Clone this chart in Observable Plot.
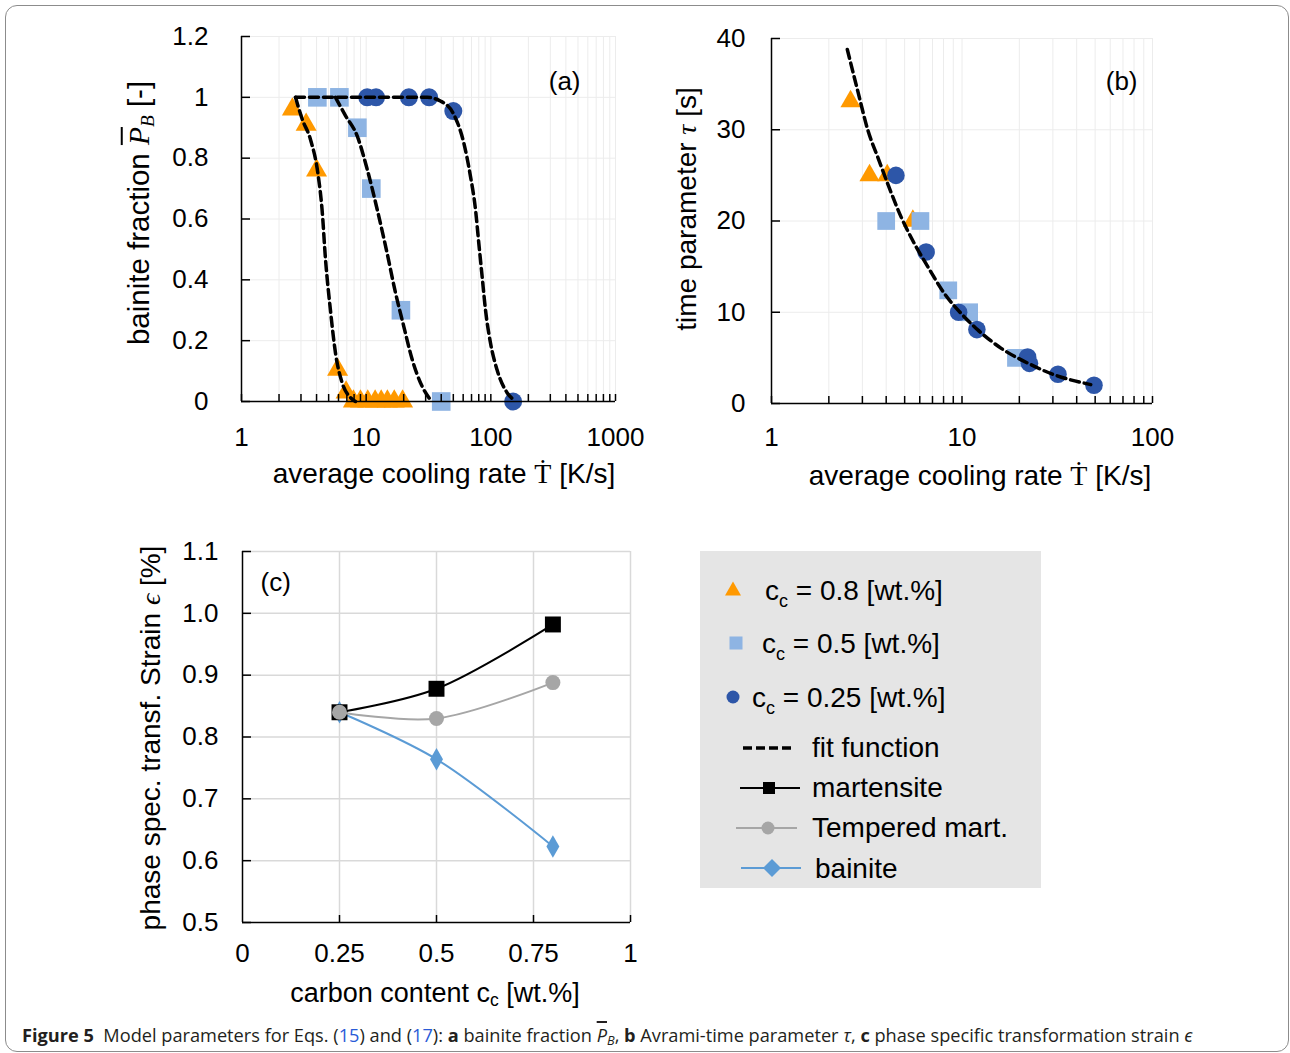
<!DOCTYPE html>
<html>
<head>
<meta charset="utf-8">
<script src="https://cdn.jsdelivr.net/npm/d3@7"></script>
<script src="https://cdn.jsdelivr.net/npm/@observablehq/plot@0.6"></script>
<style>
  body { margin: 0; background: #fff; }
  #fig { position: relative; width: 1290px; height: 1053px; overflow: hidden; background: #fff;
         font-family: "Liberation Sans", Arial, Helvetica, sans-serif; color: #000; }
  #border { position: absolute; left: 5px; top: 5px; width: 1284px; height: 1047px;
            border: 1px solid #8c8c8c; border-radius: 12px; box-sizing: border-box; }
  .panel { position: absolute; }
  .title { position: absolute; white-space: nowrap; transform: translate(-50%, -50%);
           font-size: 28px; line-height: 1; }
  .vtitle { transform: translate(-50%, -50%) rotate(-90deg); }
  .title sub { font-size: 0.65em; vertical-align: -0.25em; line-height: 0; }
  .m { font-family: "Liberation Serif", "DejaVu Serif", serif; font-style: italic; }
  .mu { font-family: "Liberation Serif", "DejaVu Serif", serif; }
  .bar { text-decoration: overline; text-decoration-thickness: 1.5px; }
  #legend { position: absolute; left: 700px; top: 551px; width: 341px; height: 337px; background: #e5e5e5; }
  #caption { position: absolute; left: 22px; top: 1023px; font-family: "Open Sans", "Noto Sans", sans-serif;
             font-size: 18.2px; line-height: 24px; color: #231f20; white-space: nowrap; }
  #caption b { font-weight: 700; }
  #caption .lnk { color: #2a5bd7; }
  #caption sub { font-size: 0.7em; vertical-align: -0.25em; line-height: 0; font-style: italic; }
</style>
</head>
<body>
<div id="fig">
  <div id="border"></div>
  <div id="pa" class="panel" style="left:100px;top:0px;"></div>
  <div id="pb" class="panel" style="left:660px;top:0px;"></div>
  <div id="pc" class="panel" style="left:100px;top:520px;"></div>

  <div class="title vtitle" style="left:139px;top:213px;font-size:29.5px;">bainite fraction <span class="m bar">P</span><sub class="m">B</sub> [-]</div>
  <div class="title" style="left:444px;top:474px;">average cooling rate <span class="mu">Ṫ</span> [K/s]</div>
  <div class="title vtitle" style="left:687px;top:209px;">time parameter <span class="m">τ</span> [s]</div>
  <div class="title" style="left:980px;top:476px;">average cooling rate <span class="mu">Ṫ</span> [K/s]</div>
  <div class="title vtitle" style="left:151px;top:738px;">phase spec. transf. Strain <span class="m">ϵ</span> [%]</div>
  <div class="title" style="left:435px;top:993px;font-size:27px;">carbon content c<sub>c</sub> [wt.%]</div>

  <div id="legend"></div>

  <div id="caption"><b>Figure 5</b>&nbsp; Model parameters for Eqs. (<span class="lnk">15</span>) and (<span class="lnk">17</span>): <b>a</b> bainite fraction <i class="bar">P</i><sub>B</sub>, <b>b</b> Avrami-time parameter <i>τ</i>, <b>c</b> phase specific transformation strain <i>ϵ</i></div>
</div>

<script>
// ---------------- colours ----------------
const orange = "#ff9900", lightBlue = "#8eb4e3", darkBlue = "#2d56a8";
const martColor = "#000000", tempColor = "#a6a6a6", bainColor = "#5b9bd5";
const FONT = "Liberation Sans, Arial, Helvetica, sans-serif";

// ---------------- panel (a): bainite fraction vs cooling rate ----------------
const a08Rate = [2.56, 3.3, 4.0, 5.9, 6.9, 7.9, 9, 10.3, 11.8, 13.2, 14.8, 16.8, 19.6];
const a08Frac = [0.96, 0.91, 0.76, 0.105, 0.03, 0, 0, 0, 0, 0, 0, 0, 0];
const a05Rate = [4.06, 6.1, 8.5, 11, 19, 40];
const a05Frac = [1, 1, 0.9, 0.7, 0.3, 0];
const a025Rate = [10.2, 12, 22, 32, 50, 151];
const a025Frac = [1, 1, 1, 1, 0.955, 0];

const fitA08Rate = [2.71, 3.07, 3.57, 4.1, 4.43, 4.72, 5.17, 5.67, 6.41, 7.48, 8.2];
const fitA08Frac = [1.0, 0.928, 0.862, 0.75, 0.63, 0.467, 0.30, 0.16, 0.062, 0.013, 0];
const fitA05Rate = [5.67, 6.82, 8.47, 10.2, 12.25, 14.7, 17.2, 20.0, 23.4, 28.1, 32.8];
const fitA05Frac = [1.0, 0.94, 0.873, 0.763, 0.632, 0.489, 0.357, 0.248, 0.138, 0.05, 0.005];
const fitA025Rate = [2.71, 30.8, 39.4, 50.4, 60.6, 68.6, 75.3, 80, 85.1, 90.5, 99.3, 112, 135, 151];
const fitA025Frac = [1, 1, 0.988, 0.944, 0.851, 0.741, 0.632, 0.522, 0.412, 0.303, 0.193, 0.105, 0.029, 0.007];

const aTicksX = [1, 10, 100, 1000];
const aMinorX = [2,3,4,5,6,7,8,9,20,30,40,50,60,70,80,90,200,300,400,500,600,700,800,900];
const aTicksY = [0, 0.2, 0.4, 0.6, 0.8, 1, 1.2];

// ---------------- panel (b): time parameter vs cooling rate ----------------
const b08Rate = [2.6, 3.27, 4.05, 5.52];
const b08Tau = [33.1, 25, 25, 20];
const b05Rate = [4.0, 6.05, 8.47, 10.9, 19.2];
const b05Tau = [20, 20, 12.4, 10, 5];
const b025Rate = [4.5, 6.48, 9.6, 11.97, 22.1, 22.6, 31.9, 49.3];
const b025Tau = [25, 16.6, 10, 8.1, 5.1, 4.4, 3.2, 2.0];

const fitBRate = [2.5, 2.84, 3.21, 3.62, 4.08, 4.8, 5.63, 6.61, 8.08, 9.88, 12.1, 16.0, 22.1, 30.4, 47.4];
const fitBTau = [38.8, 34.2, 29.9, 26.95, 24.05, 20.4, 17.5, 15.0, 12.06, 9.88, 8.07, 6.07, 4.43, 3.16, 2.07];

const bTicksX = [1, 10, 100];
const bMinorX = [2,3,4,5,6,7,8,9,20,30,40,50,60,70,80,90];
const bTicksY = [0, 10, 20, 30, 40];

// ---------------- panel (c): strain vs carbon content ----------------
const carbon = [0.25, 0.5, 0.8];
const martensite = [0.84, 0.878, 0.982];
const tempered = [0.84, 0.83, 0.888];
const bainite = [0.84, 0.764, 0.623];

const cTicksX = [0, 0.25, 0.5, 0.75, 1];
const cTicksY = [0.5, 0.6, 0.7, 0.8, 0.9, 1.0, 1.1];

// ---------------- helpers ----------------
const zip = (xs, ys) => xs.map((x, i) => ({x, y: ys[i]}));
const dash = {stroke: "#000", strokeWidth: 3.5, strokeDasharray: "9,5", curve: "monotone-x"};
const axisLine = {stroke: "#000", strokeWidth: 1.5};

function makePanel(cfg) {
  const fw = cfg.width - cfg.ml - cfg.mr;
  const fh = cfg.height - cfg.mt - cfg.mb;
  return Plot.plot({
    width: cfg.width, height: cfg.height,
    marginLeft: cfg.ml, marginRight: cfg.mr, marginTop: cfg.mt, marginBottom: cfg.mb,
    x: {...cfg.x, label: null},
    y: {...cfg.y, label: null},
    style: {fontFamily: FONT, fontSize: "26px", background: "transparent", overflow: "visible", color: "#000"},
    marks: [
      Plot.ruleX(cfg.gridX, {stroke: cfg.gridColor, strokeWidth: cfg.gridWidth}),
      Plot.ruleY(cfg.gridY, {stroke: cfg.gridColor, strokeWidth: cfg.gridWidth}),
      ...cfg.data,
      Plot.ruleX([cfg.x.domain[0]], axisLine),
      Plot.ruleY([cfg.y.domain[0]], axisLine),
      Plot.tickX(cfg.tickMarksX, {x: d => d, insetTop: fh - 7, stroke: "#000", strokeWidth: 1.5}),
      Plot.tickY(cfg.tickMarksY, {y: d => d, insetRight: fw - 9, stroke: "#000", strokeWidth: 1.5}),
      Plot.axisX({ticks: cfg.labelsX, tickFormat: cfg.fmtX, tickSize: 0, tickPadding: cfg.padX, fontSize: 26, label: null}),
      Plot.axisY({ticks: cfg.labelsY, tickFormat: cfg.fmtY, tickSize: 0, tickPadding: cfg.padY, fontSize: 26, label: null}),
      Plot.text([cfg.tag], {text: d => d, frameAnchor: cfg.tagAnchor, dx: cfg.tagDx, dy: cfg.tagDy,
                            textAnchor: cfg.tagTextAnchor, lineAnchor: "middle", fontSize: 26, fill: "#000"})
    ]
  });
}

// ---------------- panel (a) ----------------
document.getElementById("pa").append(makePanel({
  width: 560, height: 510, ml: 141, mr: 45, mt: 36, mb: 109,
  x: {type: "log", domain: [1, 1000]},
  y: {domain: [0, 1.2]},
  gridX: [...aMinorX, 10, 100, 1000], gridY: aTicksY.slice(1), gridColor: "#ececec", gridWidth: 1,
  data: [
    Plot.dot(zip(a08Rate, a08Frac), {x: "x", y: "y", symbol: "triangle", r: 7.8, fill: orange}),
    Plot.dot(zip(a05Rate, a05Frac), {x: "x", y: "y", symbol: "square", r: 10.5, fill: lightBlue}),
    Plot.dot(zip(a025Rate, a025Frac), {x: "x", y: "y", symbol: "circle", r: 9, fill: darkBlue}),
    Plot.line(zip(fitA08Rate, fitA08Frac), {x: "x", y: "y", ...dash}),
    Plot.line(zip(fitA05Rate, fitA05Frac), {x: "x", y: "y", ...dash}),
    Plot.line(zip(fitA025Rate, fitA025Frac), {x: "x", y: "y", ...dash})
  ],
  tickMarksX: [...aTicksX, ...aMinorX], tickMarksY: aTicksY,
  labelsX: aTicksX, fmtX: d => String(d), padX: 26,
  labelsY: aTicksY, fmtY: d => String(d), padY: 33,
  tag: "(a)", tagAnchor: "top-right", tagDx: -35, tagDy: 45, tagTextAnchor: "end"
}));

// ---------------- panel (b) ----------------
document.getElementById("pb").append(makePanel({
  width: 560, height: 510, ml: 111, mr: 68, mt: 38, mb: 107,
  x: {type: "log", domain: [1, 100]},
  y: {domain: [0, 40]},
  gridX: [...bMinorX, 10, 100], gridY: bTicksY.slice(1), gridColor: "#ececec", gridWidth: 1,
  data: [
    Plot.dot(zip(b08Rate, b08Tau), {x: "x", y: "y", symbol: "triangle", r: 7.5, fill: orange}),
    Plot.dot(zip(b05Rate, b05Tau), {x: "x", y: "y", symbol: "square", r: 10, fill: lightBlue}),
    Plot.dot(zip(b025Rate, b025Tau), {x: "x", y: "y", symbol: "circle", r: 8.8, fill: darkBlue}),
    Plot.line(zip(fitBRate, fitBTau), {x: "x", y: "y", ...dash})
  ],
  tickMarksX: [...bTicksX, ...bMinorX], tickMarksY: bTicksY,
  labelsX: bTicksX, fmtX: d => String(d), padX: 24,
  labelsY: bTicksY, fmtY: d => String(d), padY: 26,
  tag: "(b)", tagAnchor: "top-right", tagDx: -15, tagDy: 43, tagTextAnchor: "end"
}));

// ---------------- panel (c) ----------------
document.getElementById("pc").append(makePanel({
  width: 560, height: 500, ml: 142, mr: 30, mt: 31, mb: 98,
  x: {domain: [0, 1]},
  y: {domain: [0.5, 1.1]},
  gridX: cTicksX.slice(1), gridY: cTicksY.slice(1), gridColor: "#d9d9d9", gridWidth: 1.5,
  data: [
    Plot.line(zip(carbon, bainite), {x: "x", y: "y", stroke: bainColor, strokeWidth: 2, curve: "catmull-rom"}),
    Plot.dot(zip(carbon, bainite), {x: "x", y: "y", symbol: "diamond", r: 6.8, fill: bainColor}),
    Plot.line(zip(carbon, martensite), {x: "x", y: "y", stroke: martColor, strokeWidth: 2, curve: "catmull-rom"}),
    Plot.dot(zip(carbon, martensite), {x: "x", y: "y", symbol: "square", r: 9, fill: martColor}),
    Plot.line(zip(carbon, tempered), {x: "x", y: "y", stroke: tempColor, strokeWidth: 2, curve: "catmull-rom"}),
    Plot.dot(zip(carbon, tempered), {x: "x", y: "y", symbol: "circle", r: 7.5, fill: tempColor})
  ],
  tickMarksX: cTicksX.slice(1), tickMarksY: cTicksY,
  labelsX: cTicksX, fmtX: d => String(d), padX: 21,
  labelsY: cTicksY, fmtY: d => d.toFixed(1), padY: 24,
  tag: "(c)", tagAnchor: "top-left", tagDx: 18, tagDy: 31, tagTextAnchor: "start"
}));

// ---------------- legend ----------------
const legendItems = [
  {kind: "triangle", color: orange, label: "0.8"},
  {kind: "square", color: lightBlue, label: "0.5"},
  {kind: "circle", color: darkBlue, label: "0.25"},
  {kind: "dash", label: "fit function"},
  {kind: "lineSquare", color: martColor, label: "martensite"},
  {kind: "lineCircle", color: tempColor, label: "Tempered mart."},
  {kind: "lineDiamond", color: bainColor, label: "bainite"}
];
(function buildLegend() {
  const ns = "http://www.w3.org/2000/svg";
  const svg = document.createElementNS(ns, "svg");
  svg.setAttribute("width", 341); svg.setAttribute("height", 337);
  svg.style.fontFamily = FONT; svg.style.fontSize = "28px";
  const el = (tag, attrs, parent = svg) => {
    const e = document.createElementNS(ns, tag);
    for (const k in attrs) e.setAttribute(k, attrs[k]);
    parent.appendChild(e); return e;
  };
  const base = [49, 102, 156, 206, 246, 286, 327];
  const cy = [38, 92, 146, 197, 237, 277, 317];
  const tx = [65, 62, 52, 112, 112, 112, 115];
  legendItems.forEach((it, i) => {
    const y = cy[i];
    if (it.kind === "triangle") el("path", {d: `M33,${y-7.5}L41,${y+6.5}L25,${y+6.5}Z`, fill: it.color});
    if (it.kind === "square") el("rect", {x: 29.5, y: y - 6.5, width: 13, height: 13, fill: it.color});
    if (it.kind === "circle") el("circle", {cx: 33, cy: y, r: 6.5, fill: it.color});
    if (it.kind === "dash") el("line", {x1: 43, x2: 93, y1: y, y2: y, stroke: "#000", "stroke-width": 3.5, "stroke-dasharray": "9,4"});
    if (it.kind === "lineSquare") {
      el("line", {x1: 40, x2: 100, y1: y, y2: y, stroke: it.color, "stroke-width": 2});
      el("rect", {x: 63, y: y - 6, width: 12, height: 12, fill: it.color});
    }
    if (it.kind === "lineCircle") {
      el("line", {x1: 36, x2: 97, y1: y, y2: y, stroke: it.color, "stroke-width": 2});
      el("circle", {cx: 68, cy: y, r: 6.5, fill: it.color});
    }
    if (it.kind === "lineDiamond") {
      el("line", {x1: 41, x2: 101, y1: y, y2: y, stroke: it.color, "stroke-width": 2});
      el("path", {d: `M72,${y-9}L81,${y}L72,${y+9}L63,${y}Z`, fill: it.color});
    }
    const t = el("text", {x: tx[i], y: base[i], fill: "#000"});
    if (i < 3) {
      el("tspan", {}, t).textContent = "c";
      const s = el("tspan", {"font-size": 18, dy: 7}, t); s.textContent = "c";
      const r = el("tspan", {dy: -7}, t); r.textContent = ` = ${it.label} [wt.%]`;
    } else {
      t.textContent = it.label;
    }
  });
  document.getElementById("legend").appendChild(svg);
})();
</script>
</body>
</html>
